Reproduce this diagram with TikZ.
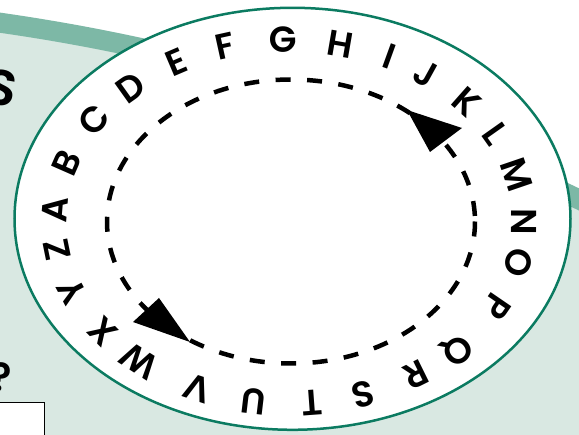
\documentclass[tikz,border=0pt]{standalone}
\usepackage{fontspec}
\newfontfamily\wheelfont{Poppins}[BoldFont={Poppins SemiBold}]
\definecolor{pagegreen}{HTML}{D9E8E2}
\definecolor{bandgreen}{HTML}{7DB8A6}
\definecolor{rimgreen}{HTML}{0B7B61}

\begin{document}
\begin{tikzpicture}[x=1pt,y=-1pt,
  letter/.style={inner sep=0pt, font=\wheelfont\bfseries\fontsize{36}{36}\selectfont},
  bigletter/.style={inner sep=0pt, font=\wheelfont\bfseries\fontsize{50}{50}\selectfont},
  track/.style={line width=4.5pt, dash pattern=on 15pt off 16.5pt},
  pointer/.style={fill=black}]
  \useasboundingbox (0,0) rectangle (579,435);
  \clip (0,0) rectangle (579,435);

  % page behind the wheel
  \fill[white] (0,0) rectangle (579,435);
  \fill[pagegreen] (-280.7,1976.7) circle[radius=1973.8];
  \draw[bandgreen, line width=20pt] (-280.7,1976.7) circle[radius=1973.8];
  \node (sletter) [bigletter, rotate=-10] at (2,88) {S};
  \node (qmark) [bigletter, scale=0.8] at (1,377) {?};
  \node (box) [draw, fill=white, line width=1.5pt, minimum width=60pt, minimum height=50pt, anchor=north east] at (45,402) {};

  % the wheel
  \draw[rimgreen, fill=white, line width=2.5pt] (292.5,218.8) ellipse[x radius=278, y radius=211];
  \draw[track] (291,221.5) ellipse[x radius=184, y radius=142];
  \fill[pointer] (407,110) -- (462,128) -- (430,152) -- cycle;
  \fill[pointer] (159,298) -- (133,322) -- (190,342) -- cycle;

  \foreach \ch/\t in {A/176.4, B/161.2, C/146.2, D/132.6, E/118.8, F/105.9, G/91.6,
      H/77.5, I/64.9, J/54.5, K/41.2, L/28.7, M/14.8, N/-0.2, O/-13.2, P/-28.0,
      Q/-44.6, R/-57.5, S/-71.8, T/-84.5, U/-98.7, V/-113.2, W/-129.7, X/-142.7,
      Y/-157.6, Z/-171.0}
    \node (\ch) [letter, rotate={atan2(235*sin(\t),182*cos(\t))-90}]
      at ({289.5+235*cos(\t)},{221.5-182*sin(\t)}) {\ch};
\end{tikzpicture}
\end{document}
